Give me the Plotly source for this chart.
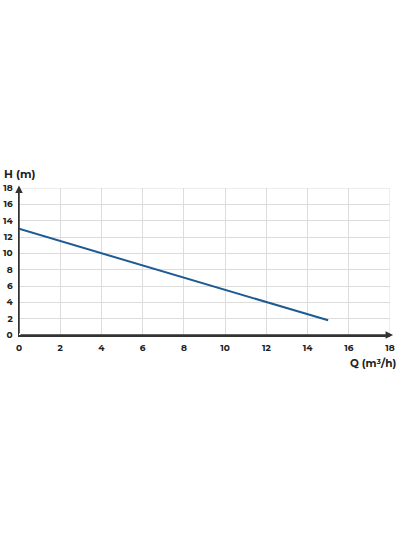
import plotly.graph_objects as go

q_values = [0, 2, 4, 6, 8, 10, 12, 14, 15]
h_values = [13.0, 11.5, 10.0, 8.5, 7.0, 5.5, 4.0, 2.5, 1.8]
x_ticks = [0, 2, 4, 6, 8, 10, 12, 14, 16, 18]
y_ticks = [0, 2, 4, 6, 8, 10, 12, 14, 16, 18]

font_family = "Montserrat, 'Open Sans', 'DejaVu Sans', sans-serif"

L, R, T, B = 19, 10, 188, 202
W, H = 400, 537

fig = go.Figure()
fig.add_trace(go.Scatter(
    x=q_values, y=h_values, mode="lines",
    line=dict(color="#1e5b92", width=2),
    hoverinfo="skip", showlegend=False,
))

fig.update_layout(
    width=W, height=H,
    margin=dict(l=L, r=R, t=T, b=B),
    paper_bgcolor="white", plot_bgcolor="white",
    font=dict(family=font_family, size=9, color="#222222"),
    xaxis=dict(
        range=[0, 18], tickvals=x_ticks, ticktext=[str(v) for v in x_ticks],
        showgrid=True, gridcolor="#dcdcdc", gridwidth=1,
        showline=True, linecolor="#333333", linewidth=1.5,
        zeroline=False, ticks="", ticklabelstandoff=4, automargin=False,
        tickfont=dict(family=font_family, size=9, color="#222222", weight="bold"),
        fixedrange=True,
    ),
    yaxis=dict(
        range=[0, 18], tickvals=y_ticks, ticktext=[str(v) for v in y_ticks],
        showgrid=True, gridcolor="#dcdcdc", gridwidth=1,
        showline=True, linecolor="#333333", linewidth=1.5,
        zeroline=False, ticks="", ticklabelstandoff=3, automargin=False,
        tickfont=dict(family=font_family, size=9, color="#222222", weight="bold"),
        fixedrange=True,
    ),
    shapes=[
        dict(type="line", xref="x", yref="y", x0=0, x1=18, y0=18, y1=18,
             line=dict(color="#dcdcdc", width=1), layer="below"),
        dict(type="line", xref="x", yref="y", x0=18, x1=18, y0=0, y1=18,
             line=dict(color="#dcdcdc", width=1), layer="below"),
    ],
)

plot_w = W - L - R
plot_h = H - T - B

def px_to_paper(px, py):
    return (px - L) / plot_w, (H - B - py) / plot_h

hx, hy = px_to_paper(2, 174)
qx, qy = px_to_paper(398, 363)

fig.add_annotation(x=0, y=18.3, ax=0, ay=0, xref="x", yref="y", axref="x", ayref="y",
                   text="", showarrow=True, arrowhead=2, arrowsize=1, arrowwidth=1.5,
                   arrowcolor="#333333")
fig.add_annotation(x=18.15, y=0, ax=0, ay=0, xref="x", yref="y", axref="x", ayref="y",
                   text="", showarrow=True, arrowhead=2, arrowsize=1, arrowwidth=1.5,
                   arrowcolor="#333333")
fig.add_annotation(x=hx, y=hy, xref="paper", yref="paper", text="<b>H (m)</b>",
                   showarrow=False, xanchor="left", yanchor="middle",
                   font=dict(family=font_family, size=11, color="#222222"))
fig.add_annotation(x=qx, y=qy, xref="paper", yref="paper", text="<b>Q (m³/h)</b>",
                   showarrow=False, xanchor="right", yanchor="middle",
                   font=dict(family=font_family, size=10.5, color="#222222"))

fig.write_html(
    "out.html",
    config={"displayModeBar": False, "staticPlot": True},
    post_script="document.body.style.margin='0';document.body.style.padding='0';",
)
